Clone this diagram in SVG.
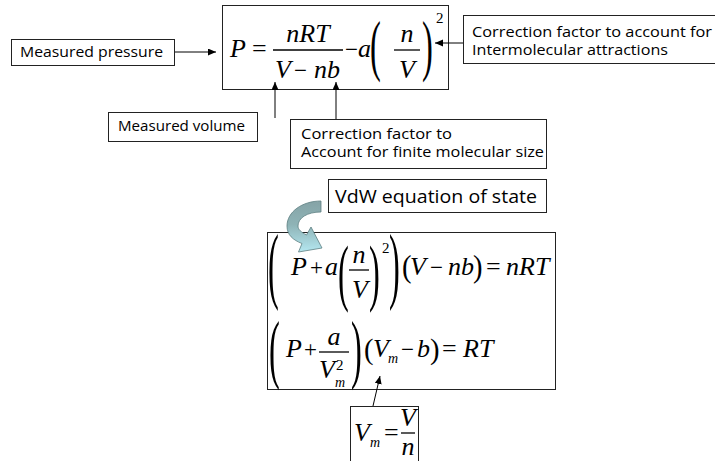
<svg xmlns="http://www.w3.org/2000/svg" width="715" height="461" viewBox="0 0 715 461">
  <style>
    .box { fill: #ffffff; stroke: #222222; stroke-width: 1; }
    .lbl { font-family: "Open Sans", "DejaVu Sans", sans-serif; font-size: 15px; fill: #000000; }
    .two { font-size: 14px; }
    .big { font-size: 18.5px; }
    .mi { font-family: "Liberation Serif", "Times New Roman", serif; font-style: italic; font-size: 26px; fill: #000000; }
    .mo { font-family: "Liberation Serif", "Times New Roman", serif; font-size: 26px; fill: #000000; }
    .op { font-family: "Liberation Serif", "Times New Roman", serif; font-size: 23px; fill: #000000; }
    .sup { font-family: "Liberation Serif", "Times New Roman", serif; font-size: 15px; fill: #000000; }
    .sub { font-family: "Liberation Serif", "Times New Roman", serif; font-style: italic; font-size: 14px; fill: #000000; }
    .bar { stroke: #000000; stroke-width: 1.3; }
    .conn { stroke: #000000; stroke-width: 1; fill: none; marker-end: url(#head); }
  </style>
  <defs>
    <marker id="head" markerUnits="userSpaceOnUse" markerWidth="9" markerHeight="8" refX="8" refY="3.5" orient="auto">
      <path d="M0,0 L8,3.5 L0,7 Z" fill="#000000"/>
    </marker>
    <linearGradient id="bend" x1="0" y1="202" x2="0" y2="252" gradientUnits="userSpaceOnUse">
      <stop offset="0" stop-color="#86a4a7"/>
      <stop offset="0.45" stop-color="#8eb3b6"/>
      <stop offset="1" stop-color="#b4e7f0"/>
    </linearGradient>
  </defs>

  <!-- van der Waals pressure form -->
  <g id="node-equation">
    <rect class="box" x="222.5" y="5.5" width="226" height="84"/>
    <text class="mi" x="230" y="57">P</text>
    <text class="mo" x="252" y="57">=</text>
    <text class="mi" x="308" y="42" text-anchor="middle">nRT</text>
    <line class="bar" x1="273" y1="50" x2="343" y2="50"/>
    <text class="mi" x="275" y="78">V</text>
    <text class="op" x="294" y="78">−</text>
    <text class="mi" x="314" y="78">nb</text>
    <text class="op" x="345" y="57">−</text>
    <text class="mi" x="358" y="57">a</text>
    <text class="mo" transform="translate(370,67.9) scale(1.25,2.61)">(</text>
    <text class="mi" x="407" y="42" text-anchor="middle">n</text>
    <line class="bar" x1="394" y1="50" x2="420" y2="50"/>
    <text class="mi" x="407" y="78" text-anchor="middle">V</text>
    <text class="mo" transform="translate(422,67.9) scale(1.25,2.61)">)</text>
    <text class="sup" x="436" y="23">2</text>
  </g>

  <g id="node-pressure">
    <rect class="box" x="11.5" y="39.5" width="163" height="26"/>
    <text class="lbl" x="20" y="57" textLength="143" lengthAdjust="spacingAndGlyphs">Measured pressure</text>
  </g>

  <g id="node-attraction">
    <rect class="box" x="463.5" y="15.5" width="260" height="48"/>
    <text class="lbl two" x="472" y="37" textLength="240" lengthAdjust="spacingAndGlyphs">Correction factor to account for</text>
    <text class="lbl two" x="472" y="55" textLength="196" lengthAdjust="spacingAndGlyphs">Intermolecular attractions</text>
  </g>

  <g id="node-volume">
    <rect class="box" x="108.5" y="112.5" width="149" height="29"/>
    <text class="lbl" x="118" y="131" textLength="127" lengthAdjust="spacingAndGlyphs">Measured volume</text>
  </g>

  <g id="node-size">
    <rect class="box" x="290.5" y="119.5" width="256" height="49"/>
    <text class="lbl two" x="301" y="139" textLength="151" lengthAdjust="spacingAndGlyphs">Correction factor to</text>
    <text class="lbl two" x="301" y="157" textLength="243" lengthAdjust="spacingAndGlyphs">Account for finite molecular size</text>
  </g>

  <g id="node-vdw-label">
    <rect class="box" x="328.5" y="179.5" width="218" height="33"/>
    <text class="lbl big" x="335" y="203" textLength="202" lengthAdjust="spacingAndGlyphs">VdW equation of state</text>
  </g>

  <!-- equation of state, per amount and per mole -->
  <g id="node-vdw-equations">
    <rect class="box" x="267.5" y="232.5" width="288" height="157"/>
    <text class="mo" transform="translate(268,293) scale(1.25,3.24)">(</text>
    <text class="mi" x="291" y="275">P</text>
    <text class="op" x="310" y="275">+</text>
    <text class="mi" x="325" y="275">a</text>
    <text class="mo" transform="translate(338,297) scale(1.25,2.84)">(</text>
    <text class="mi" x="359" y="263" text-anchor="middle">n</text>
    <line class="bar" x1="349" y1="270" x2="369" y2="270"/>
    <text class="mi" x="360" y="298" text-anchor="middle">V</text>
    <text class="mo" transform="translate(369,297) scale(1.25,2.84)">)</text>
    <text class="sup" x="382" y="253">2</text>
    <text class="mo" transform="translate(389,293) scale(1.25,3.24)">)</text>
    <text class="mo" transform="translate(402,277.4) scale(1.1,1.22)">(</text>
    <text class="mi" x="410" y="275">V</text>
    <text class="op" x="430" y="275">−</text>
    <text class="mi" x="448" y="275">nb</text>
    <text class="mo" transform="translate(473,277.4) scale(1.1,1.22)">)</text>
    <text class="mo" x="486" y="275">=</text>
    <text class="mi" x="506" y="275">nRT</text>

    <text class="mo" transform="translate(269,373.5) scale(1.25,2.93)">(</text>
    <text class="mi" x="286" y="357">P</text>
    <text class="op" x="304" y="357">+</text>
    <text class="mi" x="334" y="345" text-anchor="middle">a</text>
    <line class="bar" x1="319" y1="352" x2="349" y2="352"/>
    <text class="mi" x="319" y="378">V</text>
    <text class="sup" x="336" y="370">2</text>
    <text class="sub" x="335" y="387">m</text>
    <text class="mo" transform="translate(351,373.5) scale(1.25,2.93)">)</text>
    <text class="mo" transform="translate(364,358.6) scale(1.1,1.17)">(</text>
    <text class="mi" x="373" y="357">V</text>
    <text class="sub" x="388" y="363">m</text>
    <text class="op" x="401" y="357">−</text>
    <text class="mi" x="417" y="357">b</text>
    <text class="mo" transform="translate(430,358.6) scale(1.1,1.17)">)</text>
    <text class="mo" x="442" y="357">=</text>
    <text class="mi" x="463" y="357">RT</text>
  </g>

  <g id="node-vm">
    <rect class="box" x="350.5" y="406.5" width="68" height="60"/>
    <text class="mi" x="354" y="441">V</text>
    <text class="sub" x="370" y="447">m</text>
    <text class="mo" x="384" y="441">=</text>
    <text class="mi" x="408" y="426" text-anchor="middle">V</text>
    <line class="bar" x1="401" y1="433" x2="415" y2="433"/>
    <text class="mi" x="408" y="455" text-anchor="middle">n</text>
  </g>

  <g id="connectors">
    <line class="conn" x1="175" y1="52" x2="216" y2="52"/>
    <line class="conn" x1="463" y1="43" x2="435" y2="43"/>
    <line class="conn" x1="275" y1="118" x2="275" y2="82"/>
    <line class="conn" x1="336" y1="119" x2="336" y2="82"/>
    <line class="conn" x1="373" y1="406" x2="380" y2="376"/>
    <!-- curved block arrow from the label down into the equations -->
    <path d="M 321 201 C 302 201 287 212 287 226 C 287 235 293 240 302 243.5 L 298.5 252 L 322 248 L 311 227 L 306.5 235 C 301 232 298 229.5 298 226 C 298 218 307 212 321 212 Z" fill="url(#bend)" stroke="#5d7f82" stroke-width="0.8"/>
  </g>
</svg>
